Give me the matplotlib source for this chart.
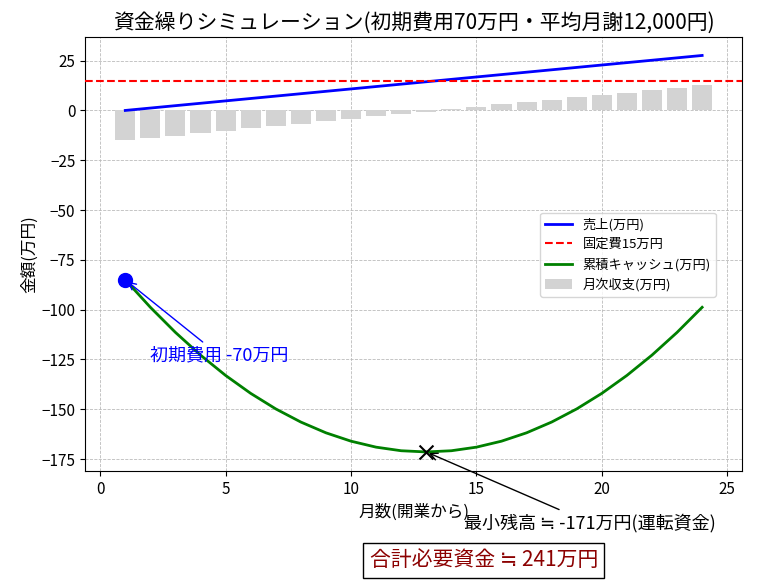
import matplotlib
matplotlib.use("Agg")
import matplotlib.pyplot as plt

plt.rcParams["font.family"] = ["Noto Sans CJK JP", "DejaVu Sans"]

months = list(range(1, 25))
sales = [0, 1.2, 2.4, 3.6, 4.8, 6.0, 7.2, 8.4, 9.6, 10.8, 12.0, 13.2, 14.4, 15.6,
         16.8, 18.0, 19.2, 20.4, 21.6, 22.8, 24.0, 25.2, 26.4, 27.6]
fixed_cost = 15
net = [-15, -13.8, -12.6, -11.4, -10.2, -9, -7.8, -6.6, -5.4, -4.2, -3, -1.8, -0.6,
       0.6, 1.8, 3, 4.2, 5.4, 6.6, 7.8, 9, 10.2, 11.4, 12.6]
cumulative = [-85, -98.8, -111.4, -122.8, -133, -142, -149.8, -156.4, -161.8, -166,
              -169, -170.8, -171.4, -170.8, -169, -166, -161.8, -156.4, -149.8, -142,
              -133, -122.8, -111.4, -98.8]
min_month, min_value = 13, -171.4

fig = plt.figure(figsize=(7.74, 5.83), dpi=100)
ax = fig.add_axes([0.110, 0.192, 0.849, 0.745])

ax.bar(months, net, width=0.8, color="lightgray", label="月次収支(万円)", zorder=2)
ax.plot(months, sales, color="blue", lw=2, label="売上(万円)", zorder=3)
ax.axhline(fixed_cost, color="red", ls="--", lw=1.5, label="固定費15万円", zorder=3)
ax.plot(months, cumulative, color="green", lw=2, label="累積キャッシュ(万円)", zorder=3)
ax.scatter([months[0]], [cumulative[0]], s=100, color="blue", zorder=4)
ax.scatter([min_month], [min_value], s=100, marker="x", color="black", zorder=4)

ax.annotate("初期費用 -70万円", xy=(months[0], cumulative[0]), xytext=(2, -123),
            color="blue", fontsize=13, ha="left", va="center",
            arrowprops=dict(arrowstyle="->", color="blue", lw=1))
ax.annotate("最小残高 ≒ -171万円(運転資金)", xy=(min_month, min_value), xytext=(14.5, -207),
            color="black", fontsize=13, ha="left", va="center", annotation_clip=False,
            arrowprops=dict(arrowstyle="->", color="black", lw=1))

ax.set_xlim(-0.6, 25.6)
ax.set_ylim(-181, 37)
ax.set_xticks([0, 5, 10, 15, 20, 25])
ax.set_yticks([25, 0, -25, -50, -75, -100, -125, -150, -175])
ax.tick_params(labelsize=11)
ax.grid(True, ls="--", lw=0.6, color="#bbbbbb", zorder=0)
ax.set_axisbelow(True)
ax.set_xlabel("月数(開業から)", fontsize=12)
ax.set_ylabel("金額(万円)", fontsize=12, labelpad=2)
ax.set_title("資金繰りシミュレーション(初期費用70万円・平均月謝12,000円)", fontsize=15)
ax.legend(loc="upper right", bbox_to_anchor=(0.97, 0.61), fontsize=9.5)

fig.text(0.625, 0.039, "合計必要資金 ≒ 241万円", color="darkred", fontsize=15,
         ha="center", va="center",
         bbox=dict(boxstyle="square,pad=0.3", fc="white", ec="black"))

fig.savefig("out.png", dpi=100)
